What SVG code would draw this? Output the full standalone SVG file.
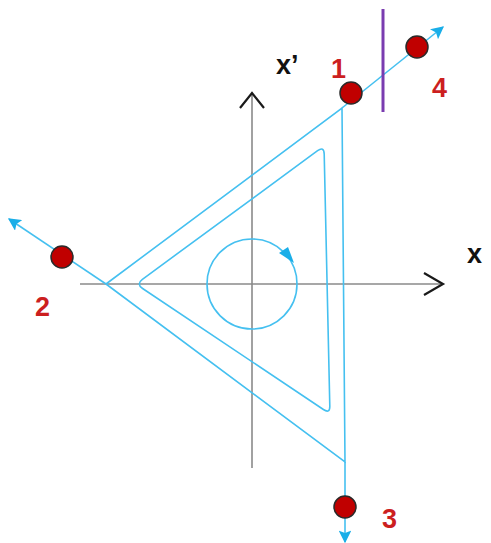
<svg xmlns="http://www.w3.org/2000/svg" width="491" height="543" viewBox="0 0 491 543">
<style>
.axis{stroke:#8a8a8a;stroke-width:1.6;fill:none}
.chev{stroke:#1a1a1a;stroke-width:2.2;fill:none;stroke-linejoin:miter}
.ray{stroke:#45c0f0;stroke-width:1.6;fill:none}
.dot{fill:#c00000;stroke:#2a2a2a;stroke-width:1.5}
.num{font-family:"Liberation Sans",Arial,sans-serif;font-weight:bold;font-size:27px;fill:#cc1f1f}
.lab{font-family:"Liberation Sans",Arial,sans-serif;font-weight:bold;font-size:27px;fill:#111}
</style>
<defs>
<marker id="ah" viewBox="0 0 10 10" refX="9" refY="5" markerWidth="8" markerHeight="8" orient="auto" markerUnits="strokeWidth">
<path d="M0,0 L10,5 L0,10 L2,5 Z" fill="#1aaee8"/>
</marker>
</defs>
<g id="axes">
<line class="axis" x1="252" y1="95" x2="252" y2="468"/>
<line class="axis" x1="80" y1="284" x2="441" y2="284"/>
<polyline class="chev" points="240,108 252,93 264,108"/>
<polyline class="chev" points="424,273 443,284 424,295"/>
<text class="lab" x="276" y="74">x’</text>
<text class="lab" x="467" y="263">x</text>
</g>
<g id="connectors">
<polyline class="ray" points="106,284 342,108 345,462 106,284"/>
<line class="ray" x1="342" y1="108" x2="443" y2="27" marker-end="url(#ah)"/>
<line class="ray" x1="106" y1="284" x2="9" y2="219" marker-end="url(#ah)"/>
<line class="ray" x1="345" y1="462" x2="345" y2="542" marker-end="url(#ah)"/>
<path class="ray" d="M142.4,279.3 L317.6,150.7 Q324,146 324.2,154 L329.8,406 Q330,414 323.4,409.5 L142.6,288.5 Q136,284 142.4,279.3 Z"/>
<circle class="ray" cx="252" cy="284" r="45"/>
<polygon points="279,253 294,263 288,247" fill="#1aaee8"/>
<line x1="383" y1="9" x2="383" y2="112" stroke="#7a3cb0" stroke-width="3"/>
</g>
<g id="p1"><circle class="dot" cx="351" cy="93" r="11"/><text class="num" x="331" y="78">1</text></g>
<g id="p4"><circle class="dot" cx="417" cy="47" r="11"/><text class="num" x="432" y="97">4</text></g>
<g id="p2"><circle class="dot" cx="62" cy="257" r="11"/><text class="num" x="35" y="316">2</text></g>
<g id="p3"><circle class="dot" cx="345" cy="507" r="11"/><text class="num" x="382" y="528">3</text></g>
</svg>
